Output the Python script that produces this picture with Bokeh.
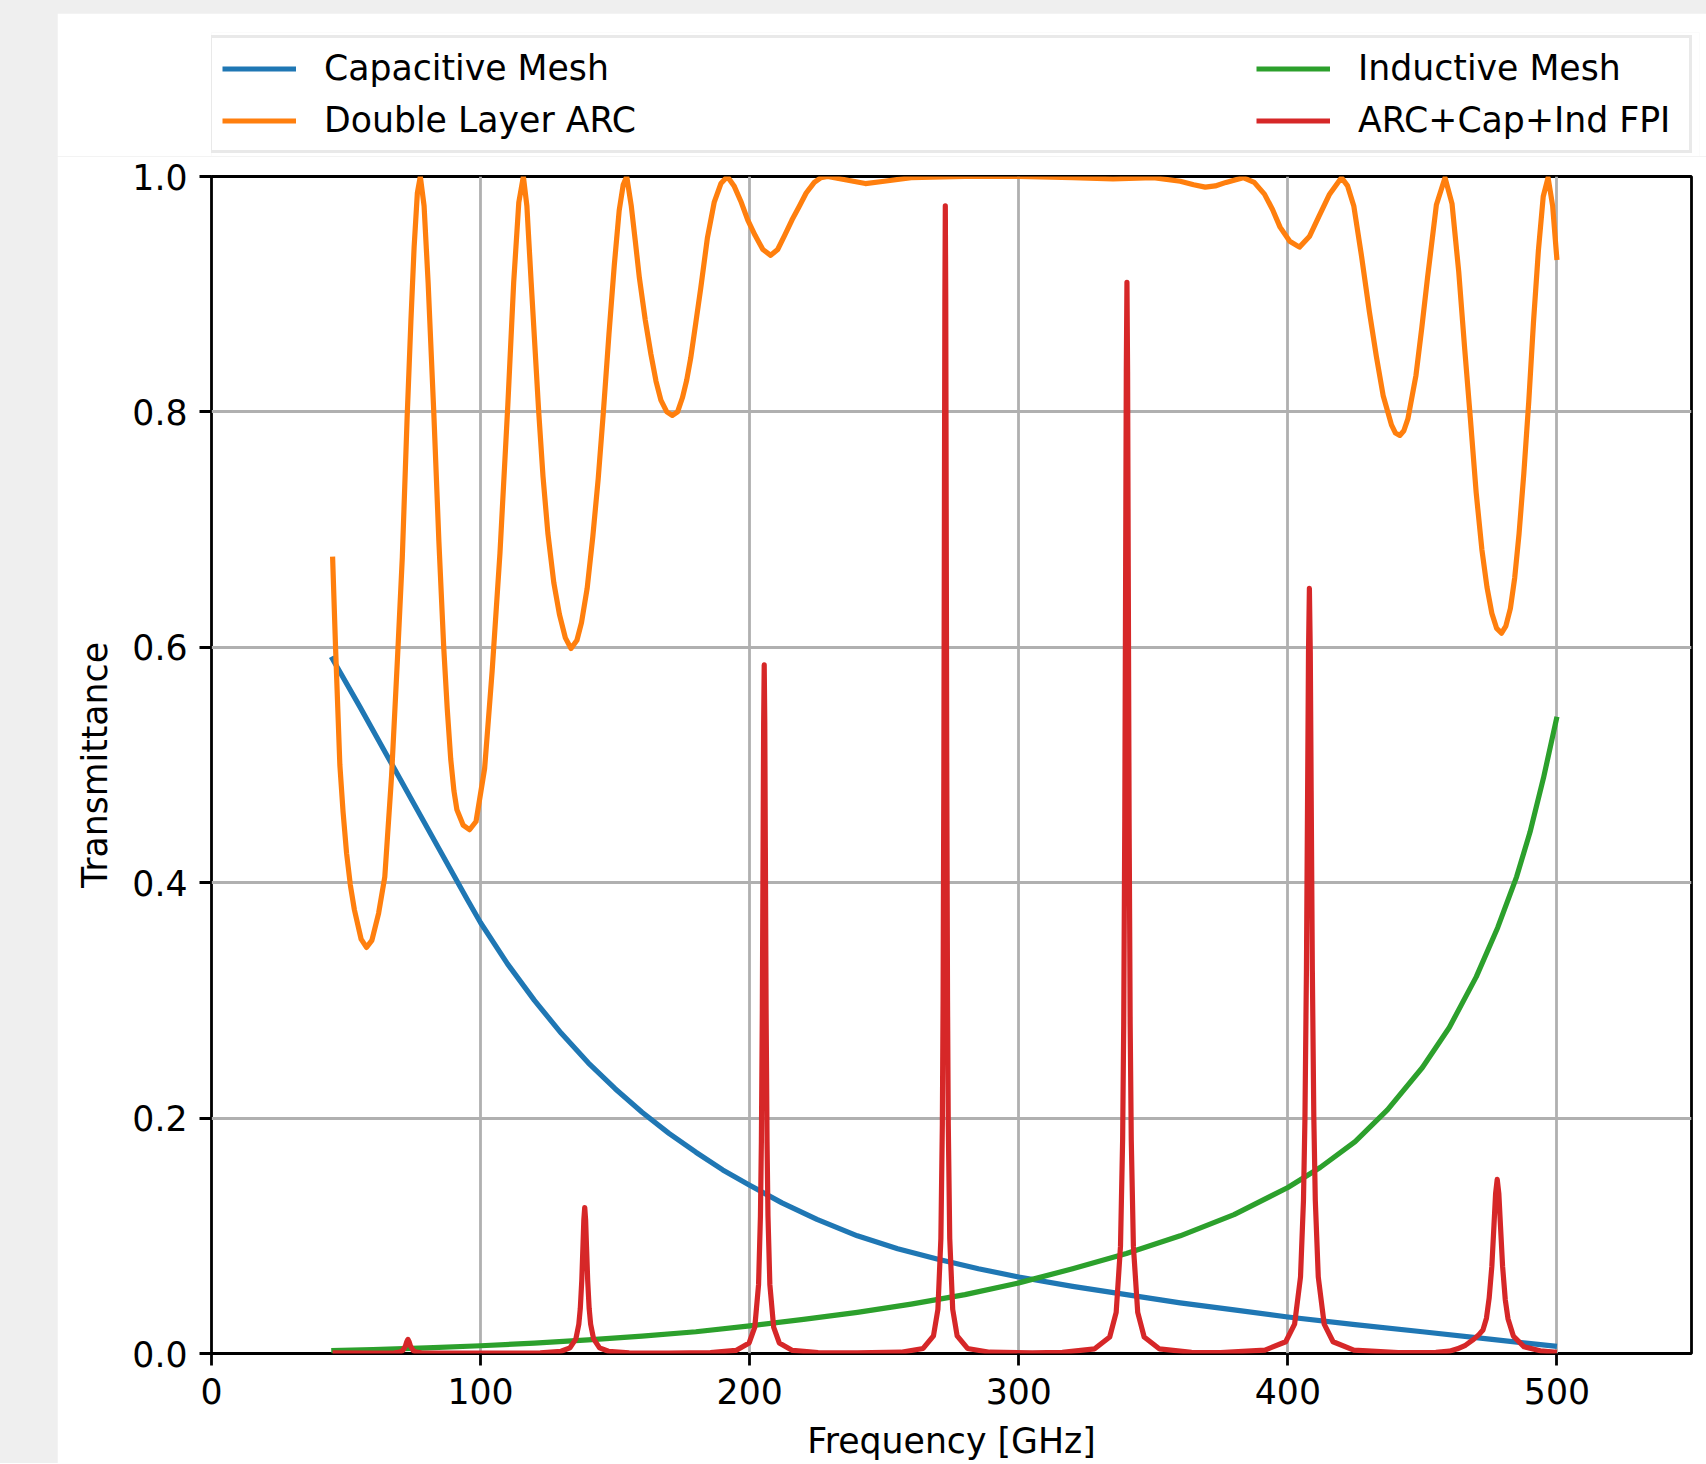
from bokeh.plotting import figure
from bokeh.models import Range1d, Legend, LegendItem, FixedTicker, PrintfTickFormatter
from bokeh.layouts import column
from bokeh.embed import file_html
from bokeh.resources import INLINE

# ---------------- data ----------------
cap_f = [44.5, 55, 65, 75, 85, 95, 100, 110, 120, 130, 140, 150, 160, 170, 180, 190, 200,
         212, 225, 240, 255, 270, 285, 300, 320, 340, 360, 380, 400, 425, 450, 475, 500]
cap_t = [0.592, 0.550, 0.509, 0.468, 0.427, 0.386, 0.366, 0.331, 0.300, 0.272, 0.247, 0.225, 0.205,
         0.187, 0.171, 0.156, 0.143, 0.128, 0.114, 0.100, 0.089, 0.080, 0.072, 0.065, 0.057, 0.050,
         0.043, 0.037, 0.031, 0.0245, 0.0185, 0.0122, 0.006]

ind_f = [44.5, 60, 80, 100, 120, 140, 160, 180, 200, 220, 240, 260, 280, 300, 320, 340, 360, 380,
         400, 412, 425, 437, 450, 460, 470, 478, 485, 490, 495, 500]
ind_t = [0.0025, 0.0033, 0.0047, 0.0066, 0.0088, 0.0115, 0.0148, 0.0185, 0.0235, 0.029, 0.035, 0.042,
         0.050, 0.060, 0.072, 0.085, 0.100, 0.118, 0.141, 0.158, 0.180, 0.207, 0.243, 0.277, 0.320,
         0.362, 0.405, 0.443, 0.489, 0.541]

arc_f = [45.0, 46.1, 47.7, 48.9, 50.2, 51.6, 53.1, 55.6, 57.6, 59.6, 62.1, 64.4, 66.9, 69.1, 70.9, 72.7,
         74.1, 75.3, 76.5, 77.6,
         79.0, 80.5, 82.6, 84.5, 86.3, 87.6, 88.9, 90.1, 91.2, 93.5, 95.9, 98.3, 101.5, 104.3, 107.2, 110.1,
         112.3, 114.2, 115.9,
         117.2, 118.8, 121.6, 123.2, 125.0, 127.2, 129.3, 131.5, 133.6, 135.8, 137.5, 139.6, 141.7, 143.7,
         145.6, 147.7, 149.7, 151.5, 153.0, 154.3,
         156.0, 157.5, 159.0, 161.2, 163.3, 165.2, 167.0, 169.2, 171.3, 173.2, 175.0, 176.6, 178.1, 180.0,
         181.8, 184.3, 186.8, 189.3, 191.7,
         194.2, 196.7, 199.3, 202.0, 204.9, 207.8, 210.4, 213.0, 215.7, 218.3, 221.0, 224.0, 226.5, 229.0,
         236.0, 243.0, 250.0, 260.0, 280.0, 300.0, 320.0, 335.0, 350.0, 360.0, 365.0, 369.3, 373.0, 377.0,
         383.4, 387.5, 391.3, 394.3, 397.1, 400.7, 404.3, 408.0, 411.5, 415.5, 419.9,
         422.2, 424.5, 427.4, 430.3, 432.9, 435.4, 438.5, 440.0, 441.6, 443.1, 444.6, 447.6, 449.8, 451.9,
         455.2, 458.4,
         461.0, 463.5, 465.7, 467.8, 470.0, 472.1, 474.0, 475.8, 477.6, 479.4, 481.0, 482.7, 484.3, 485.9,
         487.7, 489.5, 491.3, 493.1, 494.9, 496.7, 498.4, 500.0]
arc_t = [0.677, 0.60, 0.50, 0.46, 0.425, 0.398, 0.377, 0.352, 0.345, 0.351, 0.374, 0.405, 0.49, 0.59,
         0.676, 0.795, 0.877, 0.94, 0.986, 1.0,
         0.975, 0.91, 0.80, 0.69, 0.60, 0.548, 0.505, 0.478, 0.462, 0.449, 0.445, 0.452, 0.497, 0.58, 0.68,
         0.805, 0.91, 0.978, 1.0,
         0.975, 0.91, 0.80, 0.745, 0.697, 0.655, 0.628, 0.608, 0.599, 0.606, 0.621, 0.65, 0.694, 0.743,
         0.799, 0.866, 0.925, 0.971, 0.993, 1.0,
         0.975, 0.945, 0.914, 0.878, 0.849, 0.826, 0.81, 0.800, 0.797, 0.80, 0.812, 0.827, 0.846, 0.876,
         0.905, 0.948, 0.978, 0.994, 1.0,
         0.992, 0.979, 0.963, 0.95, 0.938, 0.933, 0.938, 0.95, 0.963, 0.974, 0.986, 0.995, 0.999, 1.0,
         0.997, 0.994, 0.996, 0.999, 1.0, 1.0, 0.999, 0.998, 0.999, 0.996, 0.993, 0.991, 0.992, 0.995,
         0.999, 0.995, 0.985, 0.972, 0.957, 0.945, 0.940, 0.949, 0.966, 0.985, 0.999,
         0.992, 0.975, 0.932, 0.885, 0.847, 0.814, 0.789, 0.782, 0.780, 0.784, 0.794, 0.831, 0.872, 0.914,
         0.976, 0.999,
         0.977, 0.919, 0.854, 0.795, 0.731, 0.683, 0.651, 0.629, 0.616, 0.612, 0.618, 0.633, 0.659, 0.696,
         0.748, 0.808, 0.877, 0.937, 0.983, 0.999, 0.975, 0.929]

fpi_f = [45, 60, 68, 70, 71, 72, 72.5, 73, 73.5, 74, 75, 76, 78, 100,
         122.2, 129.9, 133.2, 135.4, 136.5, 137.05, 137.6, 138.04, 138.37, 138.7,
         139.03, 139.36, 139.8, 140.35, 140.9, 142.0, 144.2, 147.5, 155.2, 170,
         185.4, 194.9, 199.8, 201.9, 203.3, 204.0, 204.35, 204.7, 204.98, 205.19, 205.4,
         205.61, 205.82, 206.1, 206.45, 206.8, 207.5, 208.9, 211.0, 215.9, 225.4, 240,
         256.2, 264.45, 268.3, 269.95, 271.05, 271.6, 271.875, 272.15, 272.37, 272.535, 272.7,
         272.865, 273.03, 273.25, 273.525, 273.8, 274.35, 275.45, 277.1, 280.95, 289.2, 305,
         316.2, 328.2, 333.8, 336.2, 337.8, 338.6, 339.0, 339.4, 339.72, 339.96, 340.2,
         340.44, 340.68, 341.0, 341.4, 341.8, 342.6, 344.2, 346.6, 352.2, 364.2,
         375, 391.5, 399.2, 402.5, 404.7, 405.8, 406.35, 406.9, 407.34, 407.67, 408,
         408.33, 408.66, 409.1, 409.65, 410.2, 411.3, 413.5, 416.8, 424.5, 441,
         455, 460, 463, 466, 469, 471, 472.5, 473.8, 474.8, 475.8, 476.6, 477.2, 477.8,
         478.4, 479.0, 479.8, 480.8, 481.8, 483.8, 487.8, 493.8, 500]
fpi_t = [0.0005, 0.0004, 0.0006, 0.0012, 0.0024, 0.006, 0.0096, 0.012, 0.0096, 0.006, 0.0024, 0.0012, 0.0006, 0.0003,
         0.0005, 0.0019, 0.0048, 0.0124, 0.0248, 0.0382, 0.062, 0.0911, 0.1137, 0.124,
         0.1137, 0.0911, 0.062, 0.0382, 0.0248, 0.0124, 0.0048, 0.0019, 0.0005, 0.0004,
         0.0007, 0.0026, 0.009, 0.0225, 0.0585, 0.117, 0.18, 0.2925, 0.43, 0.536, 0.585,
         0.536, 0.43, 0.2925, 0.18, 0.117, 0.0585, 0.0225, 0.009, 0.0026, 0.0007, 0.0005,
         0.0011, 0.0043, 0.015, 0.0375, 0.0975, 0.195, 0.30, 0.4875, 0.717, 0.894, 0.975,
         0.894, 0.717, 0.4875, 0.30, 0.195, 0.0975, 0.0375, 0.015, 0.0043, 0.0011, 0.0006,
         0.001, 0.004, 0.014, 0.035, 0.091, 0.182, 0.28, 0.455, 0.669, 0.834, 0.91,
         0.834, 0.669, 0.455, 0.28, 0.182, 0.091, 0.035, 0.014, 0.004, 0.001,
         0.0007, 0.0029, 0.01, 0.025, 0.065, 0.13, 0.20, 0.325, 0.478, 0.596, 0.65,
         0.596, 0.478, 0.325, 0.20, 0.13, 0.065, 0.025, 0.01, 0.0029, 0.0007,
         0.001, 0.002, 0.004, 0.007, 0.012, 0.016, 0.020, 0.030, 0.047, 0.074, 0.109, 0.136, 0.148,
         0.136, 0.109, 0.074, 0.0456, 0.0296, 0.0148, 0.0057, 0.0023, 0.001]

x_ticks = [0, 100, 200, 300, 400, 500]
y_ticks = [0.0, 0.2, 0.4, 0.6, 0.8, 1.0]
labels = ["Capacitive Mesh", "Double Layer ARC", "Inductive Mesh", "ARC+Cap+Ind FPI"]
colors = ["#1f77b4", "#ff7f0e", "#2ca02c", "#d62728"]
series = [(cap_f, cap_t), (arc_f, arc_t), (ind_f, ind_t), (fpi_f, fpi_t)]

FONT = "DejaVu Sans"
FS = "34.7px"
LW = 5.2

# ---------------- main plot ----------------
p = figure(frame_width=1480, frame_height=1177,
           x_range=Range1d(0, 550), y_range=Range1d(0, 1),
           output_backend="svg", toolbar_location=None,
           min_border_left=154, min_border_right=15, min_border_top=20, min_border_bottom=100,
           background_fill_color="white", border_fill_color="white",
           outline_line_color="black", outline_line_width=2.8)

for (fx, fy), c in zip(series, colors):
    p.line(fx, fy, line_color=c, line_width=LW, line_join="round")

for ax in (p.xaxis[0], p.yaxis[0]):
    ax.axis_line_color = None
    ax.major_tick_line_color = "black"
    ax.major_tick_line_width = 2.8
    ax.major_tick_out = 12
    ax.major_tick_in = 0
    ax.minor_tick_line_color = None
    ax.major_label_text_font = FONT
    ax.major_label_text_font_size = FS
    ax.major_label_text_color = "black"
    ax.major_label_standoff = 12
    ax.axis_label_text_font = FONT
    ax.axis_label_text_font_size = FS
    ax.axis_label_text_font_style = "normal"
    ax.axis_label_text_color = "black"
    ax.axis_label_standoff = 14

p.xaxis[0].ticker = FixedTicker(ticks=x_ticks)
p.yaxis[0].ticker = FixedTicker(ticks=y_ticks)
p.yaxis[0].formatter = PrintfTickFormatter(format="%.1f")
p.xaxis[0].axis_label = "Frequency [GHz]"
p.yaxis[0].axis_label = "Transmittance"

for g in (p.xgrid[0], p.ygrid[0]):
    g.grid_line_color = "#b0b0b0"
    g.grid_line_width = 2.8
p.xgrid[0].ticker = FixedTicker(ticks=x_ticks)
p.ygrid[0].ticker = FixedTicker(ticks=y_ticks)

# ---------------- legend strip above the plot ----------------
# the legend renderers reuse the series, but this strip's ranges keep them out of view
lf = figure(frame_width=1488, frame_height=124,
            x_range=Range1d(-2, -1), y_range=Range1d(-2, -1),
            output_backend="svg", toolbar_location=None,
            x_axis_location=None, y_axis_location=None,
            min_border_left=150, min_border_right=11, min_border_top=19, min_border_bottom=0,
            background_fill_color="white", border_fill_color="white",
            outline_line_color=None)
lf.grid.visible = False
d = [lf.line(fx, fy, line_color=c, line_width=LW) for (fx, fy), c in zip(series, colors)]

common = dict(label_text_font=FONT, label_text_font_size=FS, label_text_color="black",
              glyph_width=74, glyph_height=35, label_height=35, label_standoff=28,
              padding=10, spacing=12, margin=0)

leg1 = Legend(items=[LegendItem(label=labels[0], renderers=[d[0]]),
                     LegendItem(label=labels[1], renderers=[d[1]])],
              location=(-2, 3), label_width=1355,
              border_line_color="#d3d3d3", border_line_width=3,
              background_fill_color="white", background_fill_alpha=1.0, **common)
leg2 = Legend(items=[LegendItem(label=labels[2], renderers=[d[2]]),
                     LegendItem(label=labels[3], renderers=[d[3]])],
              location=(1035, 6),
              border_line_alpha=0, background_fill_alpha=0, **common)
lf.add_layout(leg1)
lf.add_layout(leg2)

page = column(lf, p, spacing=0,
              styles={"background-color": "#efefef", "margin": "-8px",
                      "padding": "21px 0 0 65px"})

open("out.html", "w").write(file_html(page, INLINE))
